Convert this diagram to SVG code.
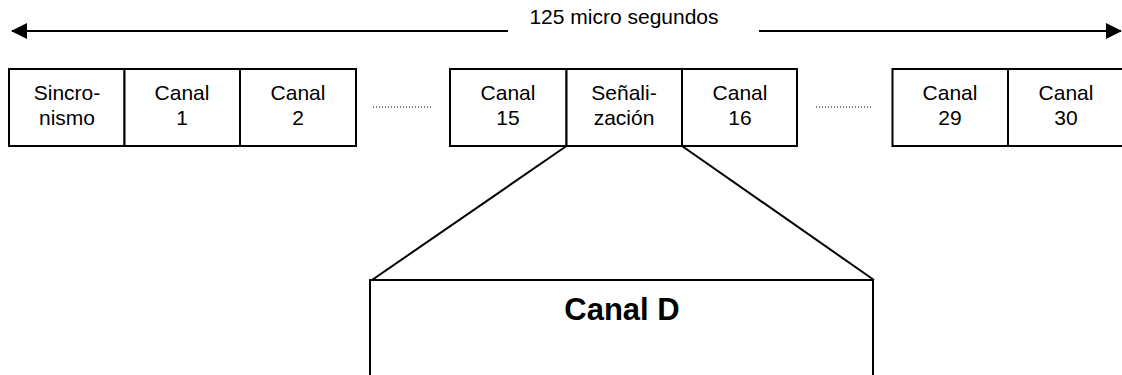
<svg xmlns="http://www.w3.org/2000/svg" width="1122" height="375" viewBox="0 0 1122 375">
  <style>
    .cell { fill: #ffffff; stroke: #000000; stroke-width: 2; }
    .lbl { font-family: "Liberation Sans", Arial, sans-serif; font-size: 21px; fill: #000000; text-anchor: middle; }
    .big { font-family: "Liberation Sans", Arial, sans-serif; font-size: 31px; font-weight: bold; fill: #000000; text-anchor: middle; }
    .line { stroke: #000000; stroke-width: 2; fill: none; }
    .dots { stroke: #000000; stroke-width: 1; stroke-dasharray: 1 2; fill: none; }
  </style>
  <defs>
    <marker id="head" viewBox="0 0 16 16" refX="15" refY="8" markerWidth="16" markerHeight="16" markerUnits="userSpaceOnUse" orient="auto">
      <path d="M0,0 L16,8 L0,16 Z" fill="#000000"/>
    </marker>
  </defs>

  <!-- frame duration arrow -->
  <g id="duration">
    <line class="line" x1="508" y1="31" x2="12" y2="31" marker-end="url(#head)"/>
    <line class="line" x1="759" y1="31" x2="1121" y2="31" marker-end="url(#head)"/>
    <text class="lbl" x="624" y="24">125 micro segundos</text>
  </g>

  <!-- time slots -->
  <g id="slot-sync">
    <rect class="cell" x="9" y="69" width="115.5" height="77"/>
    <text class="lbl" x="67" y="100">Sincro-</text>
    <text class="lbl" x="67" y="125">nismo</text>
  </g>
  <g id="slot-1">
    <rect class="cell" x="124.5" y="69" width="115.5" height="77"/>
    <text class="lbl" x="182" y="100">Canal</text>
    <text class="lbl" x="182" y="125">1</text>
  </g>
  <g id="slot-2">
    <rect class="cell" x="240" y="69" width="116" height="77"/>
    <text class="lbl" x="298" y="100">Canal</text>
    <text class="lbl" x="298" y="125">2</text>
  </g>
  <g id="slot-15">
    <rect class="cell" x="450" y="69" width="116.5" height="77"/>
    <text class="lbl" x="508" y="100">Canal</text>
    <text class="lbl" x="508" y="125">15</text>
  </g>
  <g id="slot-signal">
    <rect class="cell" x="566.5" y="69" width="115.5" height="77"/>
    <text class="lbl" x="624" y="100">Señali-</text>
    <text class="lbl" x="624" y="125">zación</text>
  </g>
  <g id="slot-16">
    <rect class="cell" x="682" y="69" width="115" height="77"/>
    <text class="lbl" x="740" y="100">Canal</text>
    <text class="lbl" x="740" y="125">16</text>
  </g>
  <g id="slot-29">
    <rect class="cell" x="892.5" y="69" width="115.5" height="77"/>
    <text class="lbl" x="950" y="100">Canal</text>
    <text class="lbl" x="950" y="125">29</text>
  </g>
  <g id="slot-30">
    <rect class="cell" x="1008" y="69" width="116" height="77"/>
    <text class="lbl" x="1066" y="100">Canal</text>
    <text class="lbl" x="1066" y="125">30</text>
  </g>

  <!-- expanded signalling channel -->
  <g id="canal-d">
    <rect class="cell" x="370" y="280" width="503" height="110"/>
    <text class="big" x="622" y="320">Canal D</text>
  </g>

  <!-- elided slots and zoom lines -->
  <g id="connectors">
    <line class="dots" x1="373" y1="107" x2="432" y2="107"/>
    <line class="dots" x1="816" y1="107" x2="873" y2="107"/>
    <line class="line" x1="566.5" y1="146" x2="372" y2="280"/>
    <line class="line" x1="682" y1="146" x2="874" y2="280"/>
  </g>
</svg>
